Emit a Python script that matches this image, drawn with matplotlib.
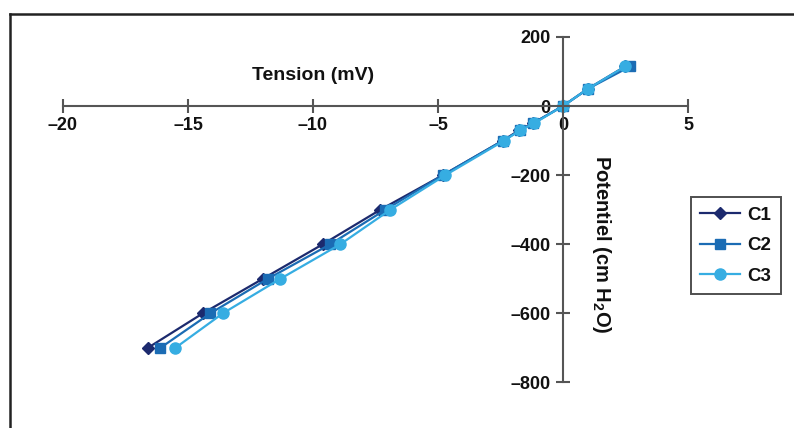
import matplotlib
matplotlib.use("Agg")
import matplotlib.pyplot as plt
from matplotlib.lines import Line2D

plt.rcParams['font.family'] = ['Liberation Sans', 'DejaVu Sans']
plt.rcParams['mathtext.fontset'] = 'custom'
plt.rcParams['mathtext.rm'] = 'Liberation Sans:bold'
plt.rcParams['mathtext.it'] = 'Liberation Sans:bold'
plt.rcParams['mathtext.bf'] = 'Liberation Sans:bold'

potential = [-700, -600, -500, -400, -300, -200, -100, -70, -50, 0, 50, 115]
c1 = [-16.6, -14.4, -12.0, -9.6, -7.3, -4.8, -2.4, -1.75, -1.2, 0.0, 1.0, 2.5]
c2 = [-16.1, -14.1, -11.8, -9.3, -7.1, -4.8, -2.4, -1.7, -1.2, 0.0, 1.0, 2.7]
c3 = [-15.5, -13.6, -11.3, -8.9, -6.9, -4.7, -2.35, -1.7, -1.15, 0.0, 1.0, 2.5]

x_ticks = [-20, -15, -10, -5, 0, 5]
y_ticks = [-800, -600, -400, -200, 0, 200]
x_tick_labels = ['\u201320', '\u201315', '\u201310', '\u20135', '0', '5']
y_tick_labels = ['\u2013800', '\u2013600', '\u2013400', '\u2013200', '0', '200']

fig = plt.figure(figsize=(7.94, 4.28), dpi=100)
ax = fig.add_axes([0.0636, 0.0664, 0.8186, 0.8876])
ax.set_xlim(-20.5, 5.5)
ax.set_ylim(-850, 250)

col1, col2, col3 = '#1c2a6e', '#1b6cb4', '#36ade2'
ax.plot(c1, potential, color=col1, marker='D', markersize=6.5, lw=1.6, label='C1')
ax.plot(c2, potential, color=col2, marker='s', markersize=7.5, lw=1.6, label='C2')
ax.plot(c3, potential, color=col3, marker='o', markersize=8, lw=1.6, label='C3')

for s in ['top', 'right']:
    ax.spines[s].set_visible(False)
ax.spines['left'].set_position(('data', 0))
ax.spines['bottom'].set_position(('data', 0))
ax.spines['left'].set_bounds(-800, 200)
ax.spines['bottom'].set_bounds(-20, 5)
for s in ['left', 'bottom']:
    ax.spines[s].set_color('#555555')
    ax.spines[s].set_linewidth(1.5)

ax.set_xticks(x_ticks)
ax.set_xticklabels(x_tick_labels)
ax.set_yticks(y_ticks)
ax.set_yticklabels(y_tick_labels)
ax.tick_params(axis='both', direction='inout', length=10, width=1.5, color='#555555',
               labelsize=13)
ax.tick_params(axis='x', pad=3)
ax.tick_params(axis='y', pad=4)
for lab in ax.get_xticklabels() + ax.get_yticklabels():
    lab.set_color('#111111')
    lab.set_fontweight('bold')

ax.text(-10, 89, 'Tension (mV)', ha='center', va='center', fontsize=14,
        fontweight='bold', color='#111111')
ax.text(1.1, -400, 'Potentiel (cm H$_2$O)', rotation=-90, ha='left', va='center',
        fontsize=14.5, fontweight='bold', color='#111111')

leg = ax.legend(loc='upper left', bbox_to_anchor=(691/794, 1-197/428),
                bbox_transform=fig.transFigure, borderaxespad=0, fancybox=False,
                edgecolor='#222222', prop={'size': 13.5, 'weight': 'bold'},
                handlelength=2.1, labelspacing=0.72, borderpad=0.5, handletextpad=0.4)
leg.get_frame().set_linewidth(1.4)
for t in leg.get_texts():
    t.set_color('#111111')

fig.add_artist(Line2D([10/794, 1], [1-14/428, 1-14/428], transform=fig.transFigure,
                      color='#222222', lw=1.8))
fig.add_artist(Line2D([10/794, 10/794], [0, 1-14/428], transform=fig.transFigure,
                      color='#222222', lw=1.8))

fig.savefig('out.png', dpi=100)
